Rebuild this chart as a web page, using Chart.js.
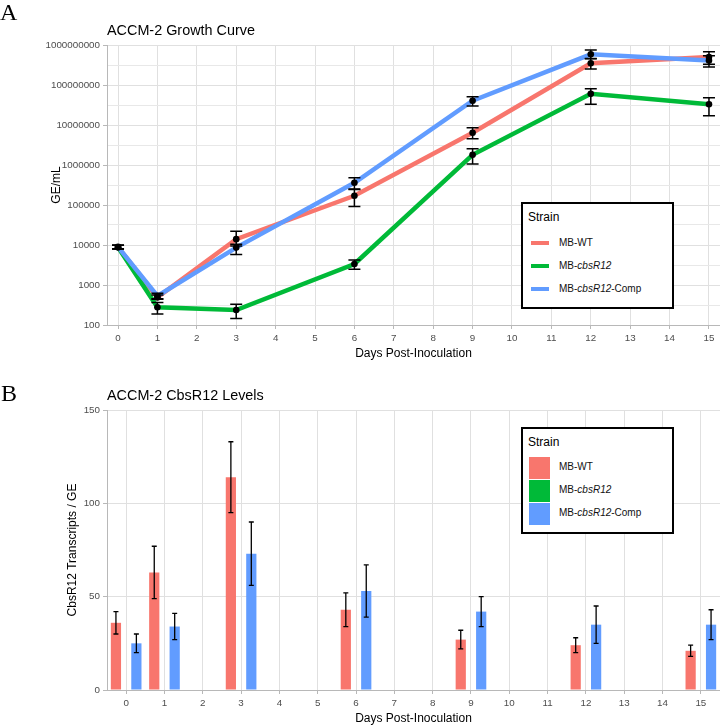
<!DOCTYPE html>
<html><head><meta charset="utf-8">
<script src="https://cdn.jsdelivr.net/npm/chart.js@4/dist/chart.umd.min.js"></script>
<style>
body{margin:0;background:#fff;width:720px;height:728px;position:relative;overflow:hidden;font-family:"Liberation Sans",Arial,sans-serif;}
canvas{position:absolute;left:0;}
#c1{top:0} #c2{top:364px}
.lab{position:absolute;font-family:"Liberation Serif","Times New Roman",serif;font-size:24px;line-height:24px;color:#000}
.ttl{position:absolute;left:107px;font-size:14.4px;line-height:16px;color:#000;white-space:nowrap}
.leg{position:absolute;left:521px;box-sizing:border-box;width:153px;height:107px;border:2px solid #000;background:#fff}
.leg div{position:absolute;white-space:nowrap}
.lt{font-size:12px;line-height:14px;height:14px;left:5px;color:#000}
.li{font-size:10px;line-height:12px;height:12px;left:36px;color:#111}
.kl{left:8px;width:18px;height:4px}
.ks{left:6px;width:21px;height:22px}
</style></head>
<body>
<canvas id="c1" width="720" height="364"></canvas>
<canvas id="c2" width="720" height="364"></canvas>
<div class="lab" style="left:0;top:0">A</div>
<div class="lab" style="left:1px;top:381px">B</div>
<div class="ttl" style="top:22px">ACCM-2 Growth Curve</div>
<div class="ttl" style="top:387px">ACCM-2 CbsR12 Levels</div>
<div class="leg" style="top:202px">
  <div class="lt" style="top:6px">Strain</div>
  <div class="kl" style="top:37px;background:#F8766D"></div>
  <div class="li" style="top:33px">MB-WT</div>
  <div class="kl" style="top:60px;background:#00BA38"></div>
  <div class="li" style="top:56px">MB-<i>cbsR12</i></div>
  <div class="kl" style="top:83px;background:#619CFF"></div>
  <div class="li" style="top:79px">MB-<i>cbsR12</i>-Comp</div>
</div>
<div class="leg" style="top:427px">
  <div class="lt" style="top:6px">Strain</div>
  <div class="ks" style="top:27.5px;background:#F8766D"></div>
  <div class="li" style="top:32px">MB-WT</div>
  <div class="ks" style="top:50.5px;background:#00BA38"></div>
  <div class="li" style="top:55px">MB-<i>cbsR12</i></div>
  <div class="ks" style="top:73.5px;background:#619CFF"></div>
  <div class="li" style="top:78px">MB-<i>cbsR12</i>-Comp</div>
</div>
<script>
// ---- Panel A: growth curve (GE/mL) ----
const growthDays = [0, 1, 3, 6, 9, 12, 15];
const wtGE        = [8800, 490, 14000, 170000, 6400000, 350000000, 500000000];
const wtGELow     = [7900, 440, 9500, 92000, 4500000, 250000000, 330000000];
const wtGEHigh    = [9800, 560, 22000, 245000, 8500000, 450000000, 680000000];
const cbsGE       = [8800, 277, 237, 3350, 1800000, 60000000, 33000000];
const cbsGELow    = [7900, 188, 145, 2470, 1060000, 33000000, 17000000];
const cbsGEHigh   = [9800, 363, 330, 4200, 2560000, 81000000, 48000000];
const compGE      = [9000, 530, 8600, 360000, 40500000, 585000000, 410000000];
const compGELow   = [8100, 455, 5800, 250000, 30000000, 460000000, 280000000];
const compGEHigh  = [9900, 620, 10500, 480000, 51000000, 750000000, 540000000];
const dayTicks    = [0,1,2,3,4,5,6,7,8,9,10,11,12,13,14,15];
const geDecades   = [100, 1000, 10000, 100000, 1000000, 10000000, 100000000, 1000000000];

// ---- Panel B: CbsR12 transcripts per GE ----
const dayLabels   = ['0','1','2','3','4','5','6','7','8','9','10','11','12','13','14','15'];
const sampledDays = [0, 1, 3, 6, 9, 12, 15];
const wtLevel      = [36, 63, 114, 43, 27, 24, 21];
const wtLevelLow   = [30, 49, 95, 34, 22, 20, 18];
const wtLevelHigh  = [42, 77, 133, 52, 32, 28, 24];
const cbsLevel     = [0, 0, 0, 0, 0, 0, 0];
const compLevel    = [25, 34, 73, 53, 42, 35, 35];
const compLevelLow = [20, 27, 56, 39, 34, 25, 27];
const compLevelHigh= [30, 41, 90, 67, 50, 45, 43];

const COLORS = {wt:'#F8766D', cbs:'#00BA38', comp:'#619CFF'};
const FAMILY = "'Liberation Sans', Arial, sans-serif";
const GRID = '#e0e0e0', AXIS = '#b8b8b8', TICKTXT = '#4d4d4d';
Chart.defaults.font.family = FAMILY;

const errorBars = {
  id: 'errorBars',
  afterDatasetsDraw(chart, args, opts) {
    const ctx = chart.ctx, ys = chart.scales.y;
    ctx.save();
    ctx.strokeStyle = '#000'; ctx.fillStyle = '#000'; ctx.lineWidth = opts.width;
    chart.data.datasets.forEach((ds, di) => {
      if (!ds.errLow) return;
      const meta = chart.getDatasetMeta(di);
      meta.data.forEach((el, i) => {
        const lo = ds.errLow[i], hi = ds.errHigh[i];
        if (lo == null || hi == null) return;
        const x = el.x, y1 = ys.getPixelForValue(lo), y2 = ys.getPixelForValue(hi), c = opts.cap;
        ctx.beginPath();
        ctx.moveTo(x, y1); ctx.lineTo(x, y2);
        ctx.moveTo(x - c, y1); ctx.lineTo(x + c, y1);
        ctx.moveTo(x - c, y2); ctx.lineTo(x + c, y2);
        ctx.stroke();
        if (opts.points) {
          ctx.beginPath(); ctx.arc(el.x, el.y, opts.points, 0, Math.PI * 2); ctx.fill();
        }
      });
    });
    ctx.restore();
  }
};

const tickFont = {family: FAMILY, size: 9.8};
const titleFont = {family: FAMILY, size: 12};
const isDecade = v => Math.abs(Math.log10(v) - Math.round(Math.log10(v))) < 1e-9;

const pts = arr => growthDays.map((d, i) => ({x: d, y: arr[i]}));
function lineDs(label, arr, lo, hi, color, order) {
  return {label, data: pts(arr), errLow: lo, errHigh: hi, borderColor: color, backgroundColor: color,
    borderWidth: 4.5, pointRadius: 0, pointHoverRadius: 0, tension: 0, order};
}

new Chart(document.getElementById('c1'), {
  type: 'line',
  data: {datasets: [
    lineDs('MB-WT', wtGE, wtGELow, wtGEHigh, COLORS.wt, 2),
    lineDs('MB-cbsR12', cbsGE, cbsGELow, cbsGEHigh, COLORS.cbs, 1),
    lineDs('MB-cbsR12-Comp', compGE, compGELow, compGEHigh, COLORS.comp, 0)
  ]},
  options: {
    responsive: false, animation: false,
    layout: {padding: {left: 45, top: 45, right: 0, bottom: 0}},
    plugins: {legend: {display: false}, tooltip: {enabled: false},
      errorBars: {width: 1.5, cap: 6, points: 3.3}},
    scales: {
      x: {type: 'linear', min: -0.28, max: 15.28,
        afterBuildTicks: a => { a.ticks = dayTicks.map(v => ({value: v})); },
        afterFit: a => { a.height = 39; },
        grid: {color: GRID, tickColor: AXIS, tickLength: 4},
        border: {color: AXIS},
        ticks: {font: tickFont, color: TICKTXT, padding: 3, maxRotation: 0, autoSkip: false},
        title: {display: true, text: 'Days Post-Inoculation', font: titleFont, color: '#000', padding: {top: 4, bottom: 3}}
      },
      y: {type: 'logarithmic', min: 100, max: 1000000000,
        afterBuildTicks: a => {
          const t = [];
          geDecades.forEach((v, i) => {
            t.push({value: v});
            if (i < geDecades.length - 1) t.push({value: v * Math.sqrt(10)});
          });
          a.ticks = t;
        },
        afterFit: a => { a.width = 62; },
        grid: {color: c => (c.tick && isDecade(c.tick.value)) ? GRID : '#e8e8e8',
               tickColor: c => (c.tick && isDecade(c.tick.value)) ? AXIS : 'rgba(0,0,0,0)', tickLength: 4},
        border: {color: AXIS},
        ticks: {font: tickFont, color: TICKTXT, padding: 3, autoSkip: false,
          callback: v => isDecade(v) ? String(Math.round(v)) : ''},
        title: {display: true, text: 'GE/mL', font: titleFont, color: '#000', padding: {top: 4, bottom: 4}}
      }
    }
  },
  plugins: [errorBars]
});

const spread = arr => dayLabels.map(l => { const i = sampledDays.indexOf(Number(l)); return i < 0 ? null : arr[i]; });
function barDs(label, arr, lo, hi, color) {
  return {label, data: spread(arr), errLow: lo ? spread(lo) : null, errHigh: hi ? spread(hi) : null,
    backgroundColor: color, borderWidth: 0, categoryPercentage: 0.8, barPercentage: 1.0};
}

new Chart(document.getElementById('c2'), {
  type: 'bar',
  data: {labels: dayLabels, datasets: [
    barDs('MB-WT', wtLevel, wtLevelLow, wtLevelHigh, COLORS.wt),
    barDs('MB-cbsR12', cbsLevel, null, null, COLORS.cbs),
    barDs('MB-cbsR12-Comp', compLevel, compLevelLow, compLevelHigh, COLORS.comp)
  ]},
  options: {
    responsive: false, animation: false,
    layout: {padding: {left: 61, top: 46, right: 0, bottom: 0}},
    plugins: {legend: {display: false}, tooltip: {enabled: false},
      errorBars: {width: 1.3, cap: 2.5, points: 0}},
    scales: {
      x: {type: 'category', offset: true,
        afterFit: a => { a.height = 38; },
        grid: {color: GRID, tickColor: AXIS, tickLength: 4, offset: false},
        border: {color: AXIS},
        ticks: {font: tickFont, color: TICKTXT, padding: 3, maxRotation: 0, autoSkip: false},
        title: {display: true, text: 'Days Post-Inoculation', font: titleFont, color: '#000', padding: {top: 4, bottom: 2}}
      },
      y: {min: 0, max: 150,
        ticks: {stepSize: 50, font: tickFont, color: TICKTXT, padding: 3},
        afterFit: a => { a.width = 46; },
        grid: {color: GRID, tickColor: AXIS, tickLength: 4},
        border: {color: AXIS},
        title: {display: true, text: 'CbsR12 Transcripts / GE', font: titleFont, color: '#000', padding: {top: 4, bottom: 4}}
      }
    }
  },
  plugins: [errorBars]
});
</script>
</body></html>
